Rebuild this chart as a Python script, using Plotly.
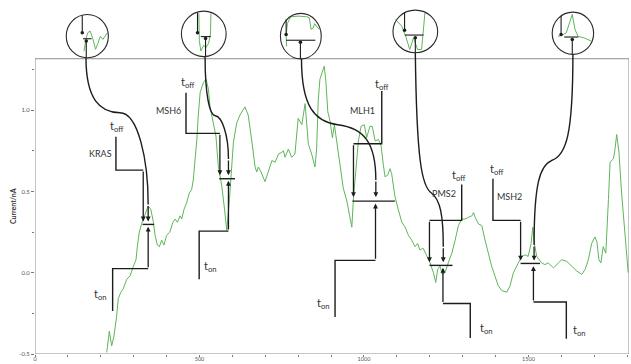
import plotly.graph_objects as go

# ---------------------------------------------------------------- data
time_pts = [
    218, 226, 233, 240, 248, 253, 261, 268, 279, 289,
    299, 307, 311, 317, 324, 334, 344, 352, 360, 365,
    372, 378, 385, 392, 400, 410, 419, 426, 433, 441,
    446, 453, 461, 469, 476, 481, 486, 492, 496, 502,
    512, 520, 527, 532, 542, 550, 557, 568, 575, 583,
    591, 598, 603, 613, 623, 638, 648, 659, 669, 674,
    679, 687, 699, 709, 720, 730, 740, 750, 755, 760,
    770, 780, 790, 800, 811, 821, 826, 831, 841, 851,
    856, 861, 866, 873, 879, 884, 890, 897, 904, 910,
    917, 927, 937, 948, 955, 963, 968, 975, 983, 991,
    1001, 1008, 1018, 1025, 1034, 1044, 1052, 1059, 1064, 1072,
    1079, 1084, 1094, 1104, 1115, 1125, 1135, 1145, 1155, 1163,
    1170, 1180, 1191, 1201, 1211, 1218, 1224, 1231, 1238, 1246,
    1256, 1267, 1277, 1287, 1297, 1307, 1317, 1328, 1333, 1338,
    1348, 1358, 1368, 1378, 1388, 1398, 1408, 1419, 1434, 1444,
    1454, 1469, 1480, 1490, 1499, 1508, 1513, 1518, 1525, 1540,
    1550, 1560, 1576, 1591, 1601, 1616, 1632, 1647, 1662, 1672,
    1682, 1692, 1702, 1708, 1714, 1720, 1727, 1735, 1743, 1748,
    1758, 1763, 1768, 1775, 1783, 1793, 1803,
]
current_nA = [
    -0.49, -0.36, -0.45, -0.39, -0.27, -0.16, -0.12, -0.10, -0.04, -0.02,
    0.04, 0.08, 0.16, 0.25, 0.30, 0.35, 0.41, 0.39, 0.31, 0.23,
    0.17, 0.16, 0.20, 0.17, 0.23, 0.25, 0.31, 0.33, 0.31, 0.35,
    0.33, 0.39, 0.43, 0.49, 0.51, 0.57, 0.68, 0.82, 0.96, 1.11,
    1.17, 1.19, 1.13, 1.02, 0.92, 0.84, 0.66, 0.53, 0.41, 0.26,
    0.45, 0.64, 0.80, 0.92, 0.97, 1.02, 0.97, 0.81, 0.65, 0.62,
    0.65, 0.62, 0.56, 0.62, 0.69, 0.68, 0.73, 0.74, 0.75, 0.71,
    0.76, 0.71, 0.73, 0.95, 0.91, 1.04, 0.93, 0.79, 0.73, 0.65,
    0.76, 1.06, 1.19, 1.23, 1.27, 1.18, 0.99, 0.93, 0.83, 0.91,
    0.81, 0.65, 0.52, 0.44, 0.36, 0.28, 0.46, 0.65, 0.81, 0.90,
    0.91, 0.83, 0.90, 0.90, 0.81, 0.82, 0.78, 0.66, 0.59, 0.60,
    0.64, 0.61, 0.47, 0.39, 0.31, 0.28, 0.23, 0.20, 0.16, 0.18,
    0.14, 0.15, 0.10, 0.06, 0.00, -0.06, 0.02, 0.04, -0.01, 0.00,
    0.06, 0.12, 0.20, 0.29, 0.33, 0.33, 0.34, 0.35, 0.37, 0.34,
    0.30, 0.29, 0.20, 0.12, 0.04, -0.02, -0.08, -0.11, -0.12, -0.08,
    0.00, 0.06, 0.10, 0.11, 0.10, 0.18, 0.28, 0.18, 0.10, 0.06,
    0.05, 0.06, 0.03, 0.06, 0.08, 0.07, 0.04, 0.01, -0.01, 0.02,
    0.08, 0.18, 0.22, 0.19, 0.08, 0.06, 0.16, 0.12, 0.45, 0.68,
    0.70, 0.76, 0.85, 0.74, 0.49, 0.25, 0.00,
]

genes = ["KRAS", "MSH6", "MLH1", "PMS2", "MSH2"]

x_ticks = [0, 500, 1000, 1500]
x_minor = [100, 200, 300, 400, 600, 700, 800, 900, 1100, 1200, 1300, 1400, 1600, 1700, 1800]
y_ticks = [-0.5, 0.0, 0.5, 1.0]
y_tick_text = ["-0.5", "0.0", "0.5", "1.0"]
y_minor = [-0.25, 0.25, 0.75, 1.25]

# ------------------------------------------------------- callout layout
# Everything below is placed in axis units (time, nA).
X_MAX = 1805.5
Y_MIN, Y_MAX = -0.5, 1.665
FRAME_TOP = 1.316

callouts = [
    dict(gene_pos=(240, 0.736), gene_anchor="right",
         toff_label=(249, 0.90),
         toff_path=[(246, 0.836), (246, 0.631), (329, 0.631)], toff_tip=(329, 0.315),
         bar=(327, 362, 0.297),
         ton_path=[(236, -0.236), (236, 0.025), (344, 0.025)], ton_tip=(344, 0.283),
         ton_label=(200, -0.133), ton_anchor="center",
         link=[(155, 1.322), (155, 1.065), (198, 0.986), (258, 0.984),
               (313, 0.984), (344, 0.697), (344, 0.42)], link_tip=(344, 0.315)),
    dict(gene_pos=(451, 0.999), gene_anchor="right",
         toff_label=(466, 1.17),
         toff_path=[(459, 1.107), (459, 0.857), (562, 0.857)], toff_tip=(562, 0.60),
         bar=(560, 608, 0.578),
         ton_path=[(499, -0.041), (499, 0.256), (588, 0.256)], ton_tip=(588, 0.565),
         ton_label=(507, 0.036), ton_anchor="left",
         link=[(517, 1.328), (517, 1.10), (530, 0.97), (548, 0.965),
               (568, 0.96), (588, 0.85), (588, 0.70)], link_tip=(588, 0.60)),
    dict(gene_pos=(1039, 0.999), gene_anchor="right",
         toff_label=(1054, 1.155),
         toff_path=[(1054, 1.117), (1054, 0.793), (968, 0.793)], toff_tip=(968, 0.465),
         bar=(965, 1094, 0.44),
         ton_path=[(912, -0.273), (912, 0.076), (1035, 0.076)], ton_tip=(1035, 0.425),
         ton_label=(902, -0.192), ton_anchor="right",
         link=[(810, 1.316), (810, 1.02), (850, 0.93), (920, 0.91),
               (1000, 0.89), (1036, 0.80), (1036, 0.57)], link_tip=(1036, 0.465)),
    dict(gene_pos=(1287, 0.485), gene_anchor="right",
         toff_label=(1290, 0.598),
         toff_path=[(1297, 0.543), (1297, 0.322), (1199, 0.322)], toff_tip=(1199, 0.065),
         bar=(1199, 1269, 0.045),
         ton_path=[(1323, -0.402), (1323, -0.189), (1240, -0.189)], ton_tip=(1240, 0.03),
         ton_label=(1345, -0.343), ton_anchor="left",
         link=[(1156, 1.353), (1160, 0.70), (1175, 0.53), (1205, 0.49),
               (1232, 0.45), (1241, 0.35), (1241, 0.16)], link_tip=(1241, 0.065)),
    dict(gene_pos=(1397, 0.469), gene_anchor="left",
         toff_label=(1405, 0.633),
         toff_path=[(1392, 0.578), (1392, 0.322), (1476, 0.322)], toff_tip=(1476, 0.075),
         bar=(1476, 1535, 0.057),
         ton_path=[(1615, -0.406), (1615, -0.18), (1515, -0.18)], ton_tip=(1515, 0.04),
         ton_label=(1628, -0.355), ton_anchor="left",
         link=[(1635, 1.343), (1635, 0.85), (1615, 0.72), (1570, 0.69),
               (1535, 0.66), (1517, 0.55), (1517, 0.17)], link_tip=(1517, 0.075)),
]

# magnified views: centre and radii (axis units)
lenses = [
    (159, 1.455, 64, 0.133),
    (513, 1.469, 68, 0.140),
    (808, 1.455, 62, 0.140),
    (1156, 1.484, 68, 0.131),
    (1635, 1.473, 63, 0.130),
]

# contents of each magnified view in local units (-1..1 across the lens)
lens_trace = [
    [(-0.16, -0.7), (-0.05, -0.06), (0.03, 0.17), (0.14, 0.23), (0.27, -0.15), (0.39, -0.61),
     (0.5, -0.34), (0.62, 0.0), (0.74, -0.15), (0.84, -0.01), (0.96, 0.16)],
    [(-0.22, 0.9), (-0.2, -0.3), (-0.13, -0.75), (0.0, -0.5), (0.1, -0.6), (0.22, -0.4),
     (0.3, 0.0), (0.32, 0.9)],
    [(-0.7, -0.45), (-0.72, 0.0), (-0.66, 0.55), (-0.5, 0.85), (-0.1, 0.88), (0.3, 0.85),
     (0.42, 0.8), (0.5, 0.3), (0.6, 0.35), (0.68, 0.55), (0.8, 0.4), (0.9, 0.3)],
    [(-0.88, 0.56), (-0.61, 0.25), (-0.43, -0.22), (-0.25, -0.85), (-0.08, -0.3), (0.1, -0.85),
     (0.28, -0.85), (0.37, 0.09), (0.43, 0.88)],
    [(-0.72, -0.15), (-0.53, -0.1), (-0.32, 0.02), (-0.19, 0.42), (-0.03, 0.89), (0.1, 0.18),
     (0.25, -0.15), (0.54, -0.22), (0.88, -0.37)],
]
lens_down = [(-0.24, 0.95, 0.16), (-0.28, 0.93, 0.05), (-0.72, 0.74, 0.07),
             (-0.48, 0.90, 0.06), (-0.57, 0.81, -0.06)]
lens_bar = [(-0.20, 0.20, -0.12), (-0.13, 0.31, -0.12), (-0.72, 0.71, -0.18),
            (-0.47, 0.37, -0.17), (-0.42, 0.26, -0.18)]
lens_up = [(-0.05, -1.0, -0.22), (0.08, -1.0, -0.2), (-0.02, -1.0, -0.27),
           (0.0, -1.0, -0.3), (-0.03, -1.0, -0.3)]

# ------------------------------------------------------------- styling
GREEN = "#5fb55a"
INK = "#1c1c1c"
TEXT = "#333333"
FONT = "Lato, 'Open Sans', sans-serif"

fig = go.Figure()

fig.add_trace(go.Scatter(x=time_pts, y=current_nA, mode="lines",
                         line=dict(color=GREEN, width=1), hoverinfo="skip"))

shapes = [dict(type="rect", xref="x", yref="y", x0=0, x1=X_MAX, y0=Y_MIN, y1=FRAME_TOP,
               line=dict(color="#8c8c8c", width=1), layer="below")]
annotations = []


def arrow(tip, tail, width=1.3):
    return dict(x=tip[0], y=tip[1], ax=tail[0], ay=tail[1], xref="x", yref="y",
                axref="x", ayref="y", text="", showarrow=True, arrowhead=2,
                arrowsize=0.75, arrowwidth=width, arrowcolor=INK,
                standoff=0, startstandoff=0)


def polyline(points):
    fig.add_trace(go.Scatter(x=[p[0] for p in points], y=[p[1] for p in points],
                             mode="lines", line=dict(color=INK, width=1.4),
                             hoverinfo="skip"))


for gene, c in zip(genes, callouts):
    # t_off bracket and arrow
    polyline(c["toff_path"])
    annotations.append(arrow(c["toff_tip"], c["toff_path"][-1]))
    # t_on bracket and arrow
    polyline(c["ton_path"])
    annotations.append(arrow(c["ton_tip"], c["ton_path"][-1]))
    # event bar
    x0, x1, yb = c["bar"]
    polyline([(x0, yb), (x1, yb)])
    # link from the magnified view
    p = c["link"]
    path = (f"M {p[0][0]},{p[0][1]} C {p[1][0]},{p[1][1]} {p[2][0]},{p[2][1]} {p[3][0]},{p[3][1]} "
            f"C {p[4][0]},{p[4][1]} {p[5][0]},{p[5][1]} {p[6][0]},{p[6][1]}")
    shapes.append(dict(type="path", xref="x", yref="y", path=path,
                       line=dict(color=INK, width=1.4)))
    annotations.append(arrow(c["link_tip"], p[6]))
    # labels
    annotations.append(dict(x=c["gene_pos"][0], y=c["gene_pos"][1], xref="x", yref="y",
                            text=gene, showarrow=False, xanchor=c["gene_anchor"],
                            yanchor="middle", font=dict(family=FONT, size=9, color=TEXT)))
    annotations.append(dict(x=c["toff_label"][0], y=c["toff_label"][1], xref="x", yref="y",
                            text="t<sub>off</sub>", showarrow=False, xanchor="center",
                            yanchor="middle", font=dict(family=FONT, size=11, color=TEXT)))
    annotations.append(dict(x=c["ton_label"][0], y=c["ton_label"][1], xref="x", yref="y",
                            text="t<sub>on</sub>", showarrow=False, xanchor=c["ton_anchor"],
                            yanchor="middle", font=dict(family=FONT, size=11, color=TEXT)))

# magnified views above the frame
for (cx, cy, rx, ry), tr, dn, br, up in zip(lenses, lens_trace, lens_down, lens_bar, lens_up):
    shapes.append(dict(type="circle", xref="x", yref="y", x0=cx - rx, x1=cx + rx,
                       y0=cy - ry, y1=cy + ry, line=dict(color="#2a2a2a", width=1.1)))
    fig.add_trace(go.Scatter(x=[cx + u * rx for u, v in tr], y=[cy + v * ry for u, v in tr],
                             mode="lines", line=dict(color=GREEN, width=1), hoverinfo="skip"))
    for u, va, vb in (dn, up):
        fig.add_trace(go.Scatter(x=[cx + u * rx, cx + u * rx], y=[cy + va * ry, cy + vb * ry],
                                 mode="lines", line=dict(color=INK, width=1.1),
                                 hoverinfo="skip"))
        fig.add_trace(go.Scatter(x=[cx + u * rx], y=[cy + vb * ry], mode="markers",
                                 marker=dict(color=INK, size=3.5), hoverinfo="skip"))
    ua, ub, vbar = br
    fig.add_trace(go.Scatter(x=[cx + ua * rx, cx + ub * rx], y=[cy + vbar * ry] * 2,
                             mode="lines", line=dict(color=INK, width=1.1), hoverinfo="skip"))

annotations.append(dict(x=-0.037, y=0.41, xref="paper", yref="y", text="<b>Current/nA</b>",
                        textangle=-90, showarrow=False, xanchor="center", yanchor="middle",
                        font=dict(family=FONT, size=7, color=TEXT)))

fig.update_layout(
    width=631, height=364,
    margin=dict(l=35, r=2, t=2, b=10),
    plot_bgcolor="white", paper_bgcolor="white",
    showlegend=False,
    shapes=shapes, annotations=annotations,
    xaxis=dict(range=[0, X_MAX], showgrid=False, zeroline=False, showline=False,
               tickmode="array", tickvals=x_ticks, ticks="outside", ticklen=2,
               tickcolor="#777", tickwidth=1, automargin=False, ticklabelstandoff=-3,
               tickfont=dict(family=FONT, size=5.5, color="#555"),
               minor=dict(tickmode="array", tickvals=x_minor, ticks="outside",
                          ticklen=2, tickcolor="#777")),
    yaxis=dict(range=[Y_MIN, Y_MAX], showgrid=False, zeroline=False, showline=False,
               tickmode="array", tickvals=y_ticks, ticktext=y_tick_text, ticks="outside",
               ticklen=3, tickcolor="#777", tickwidth=1, automargin=False,
               tickfont=dict(family=FONT, size=6, color="#555"),
               minor=dict(tickmode="array", tickvals=y_minor, ticks="outside",
                          ticklen=2, tickcolor="#777")),
)

fig.write_html("out.html")
